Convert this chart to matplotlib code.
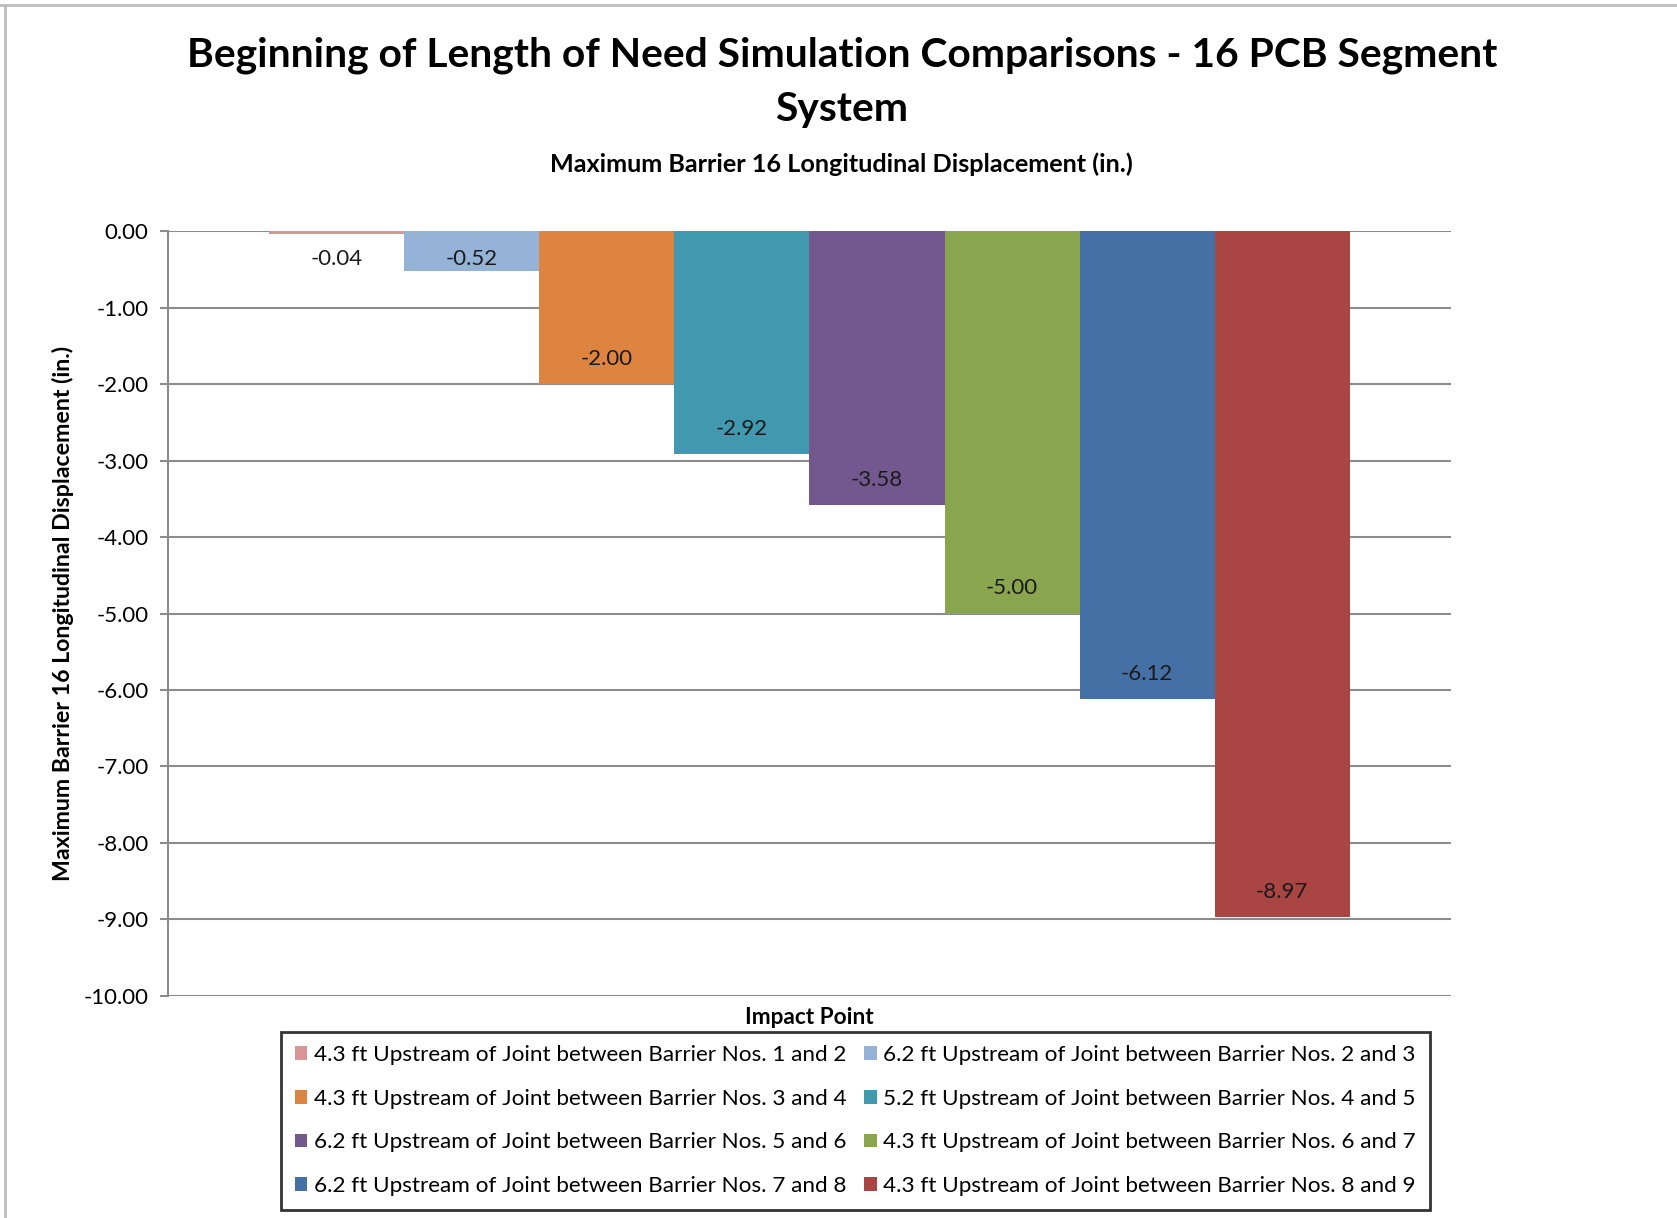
import matplotlib
matplotlib.use('Agg')
import matplotlib.pyplot as plt
from matplotlib.lines import Line2D

plt.rcParams['font.family'] = ['Lato', 'DejaVu Sans']

# data
series_labels = [
    '4.3 ft Upstream of Joint between Barrier Nos. 1 and 2',
    '6.2 ft Upstream of Joint between Barrier Nos. 2 and 3',
    '4.3 ft Upstream of Joint between Barrier Nos. 3 and 4',
    '5.2 ft Upstream of Joint between Barrier Nos. 4 and 5',
    '6.2 ft Upstream of Joint between Barrier Nos. 5 and 6',
    '4.3 ft Upstream of Joint between Barrier Nos. 6 and 7',
    '6.2 ft Upstream of Joint between Barrier Nos. 7 and 8',
    '4.3 ft Upstream of Joint between Barrier Nos. 8 and 9',
]
displacement = [-0.04, -0.52, -2.00, -2.92, -3.58, -5.00, -6.12, -8.97]
bar_colors = ['#D99694', '#95B3D7', '#DD8440', '#4199B0',
              '#72588F', '#89A54E', '#4470A6', '#A94543']
yticks = [0, -1, -2, -3, -4, -5, -6, -7, -8, -9, -10]

fig = plt.figure(figsize=(16.77, 12.18), dpi=100)
ax = fig.add_axes([0.1002, 0.1823, 0.765, 0.628])

grid_col = '#8c8c8c'
ax.set_axisbelow(True)
ax.yaxis.grid(True, color=grid_col, linewidth=1.5)

bars = []
for i, (v, c, lab) in enumerate(zip(displacement, bar_colors, series_labels)):
    b = ax.bar(i, v, width=1.0, color=c, label=lab)
    bars.append(b)
    # inside-end label, kept inside the plot area for tiny bars
    ly = min(v + 0.33, -0.36)
    ax.text(i, ly, '%.2f' % v, ha='center', va='center', fontsize=16, color='#1a1a1a')

ax.set_xlim(-1.25, 8.25)
ax.set_ylim(-10, 0)
ax.set_yticks(yticks)
ax.set_yticklabels(['%.2f' % t for t in yticks], fontsize=16)
ax.set_xticks([])

for s in ['top', 'right', 'bottom']:
    ax.spines[s].set_visible(False)
ax.spines['left'].set_color(grid_col)
ax.spines['left'].set_linewidth(1.5)
ax.tick_params(axis='y', color=grid_col, width=1.5, length=6, pad=8)

ax.set_ylabel('Maximum Barrier 16 Longitudinal Displacement (in.)', fontsize=16.7,
              fontweight='bold', labelpad=7)
ax.set_xlabel('Impact Point', fontsize=16.3, fontweight='bold', labelpad=8)

fig.text(0.502, 0.9325, 'Beginning of Length of Need Simulation Comparisons - 16 PCB Segment\nSystem',
         ha='center', va='center', fontsize=29.3, fontweight='bold', linespacing=1.57)
fig.text(0.502, 0.865, 'Maximum Barrier 16 Longitudinal Displacement (in.)',
         ha='center', va='center', fontsize=18.2, fontweight='bold')

# legend filled row by row like the reference
order = [0, 2, 4, 6, 1, 3, 5, 7]
handles = [bars[i] for i in order]
labels = [series_labels[i] for i in order]
leg = fig.legend(handles, labels, ncol=2, loc='upper center', bbox_to_anchor=(0.51, 0.153),
                 fontsize=16.2, frameon=True, fancybox=False, edgecolor='black',
                 handlelength=0.55, handleheight=0.55, handletextpad=0.3,
                 columnspacing=0.8, labelspacing=1.05, borderpad=0.6, borderaxespad=0)
leg.get_frame().set_linewidth(2)

# chart border (top and left edges visible in the reference)
fig.add_artist(Line2D([0, 1], [0.996, 0.996], transform=fig.transFigure, color='#bdbdbd', lw=2))
fig.add_artist(Line2D([0.003, 0.003], [0, 0.996], transform=fig.transFigure, color='#bdbdbd', lw=2))

fig.savefig('out.png', dpi=100)
